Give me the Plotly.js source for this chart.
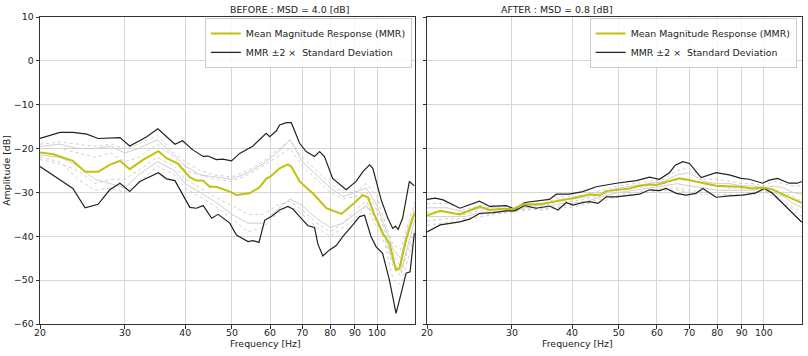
<!DOCTYPE html>
<html>
<head>
<meta charset="utf-8">
<script src="https://cdn.plot.ly/plotly-3.0.1.min.js"></script>
<style>html,body{margin:0;padding:0;background:#fff}#chart{width:808px;height:356px}</style>
</head>
<body>
<div id="chart"></div>
<script>
// ---------- BEFORE (left panel) ----------
const beforeMeanF = [20,21.3,23.4,24.8,26.4,27.9,29.3,30.7,32.7,35.2,36.6,38.6,40.9,42.2,43.5,45.0,46.4,49.5,51.1,54.4,57.1,58.9,60.4,62.8,65.3,66.4,69.1,74.2,78.5,84.3,89.1,93.4,95.7,98.8,102.7,106.1,109.5,111.3,114.9,119.5];
const beforeMean  = [-20.9,-21.3,-22.8,-25.3,-25.3,-23.7,-22.8,-24.7,-22.6,-20.6,-22.2,-23.4,-26.5,-27.3,-27.3,-28.7,-28.7,-29.8,-30.6,-30.2,-28.8,-26.9,-26.2,-24.5,-23.6,-24.1,-27.5,-30.6,-33.6,-34.9,-32.7,-30.6,-31.1,-35.1,-39.3,-41.6,-47.7,-47.3,-40.8,-34.8];

const beforeUpperF = [20,22.0,23.4,25.0,26.4,29.3,30.7,33.3,35.1,36.6,38.1,39.5,41.5,43.6,44.6,46.4,47.9,49.9,51.9,55.3,58.0,58.9,59.9,61.8,62.8,64.9,66.4,69.1,71.3,74.2,76.0,77.8,80.9,86.3,90.5,93.4,96.5,98.0,102.0,105.3,107.8,109.2,110.6,113.0,116.7,119.5];
const beforeUpper  = [-17.7,-16.3,-16.3,-16.7,-17.7,-17.5,-19.4,-17.3,-15.5,-17.3,-19.0,-18.2,-20.3,-21.8,-21.7,-22.5,-22.4,-22.8,-21.1,-19.4,-17.3,-16.5,-17.3,-16.0,-14.6,-14.1,-14.1,-18.8,-20.7,-21.8,-20.7,-21.8,-26.8,-29.4,-27.5,-25.3,-23.7,-24.5,-31.7,-35.9,-38.2,-37.7,-38.4,-35.9,-27.5,-28.5];

const beforeLowerF = [20,22.0,23.4,24.8,26.4,27.9,29.3,30.7,32.2,35.2,36.6,38.1,40.9,42.2,43.6,45.4,46.8,49.5,51.1,54.0,55.3,56.9,58.5,60.4,62.8,65.3,66.9,69.1,71.9,74.2,75.4,77.2,79.7,82.3,84.9,89.1,92.0,94.2,97.2,99.6,102.7,106.1,109.5,112.2,114.9,117.1,119.5];
const beforeLower  = [-24.1,-27.2,-29.1,-33.5,-32.7,-29.4,-27.9,-29.8,-27.5,-25.5,-26.9,-27.3,-33.4,-33.6,-33.0,-35.9,-35.0,-37.0,-39.7,-41.2,-41.0,-41.4,-36.3,-35.5,-34.0,-33.2,-33.8,-35.5,-37.6,-38.0,-41.8,-44.5,-43.1,-42.1,-40.1,-37.4,-35.5,-35.2,-40.1,-42.4,-43.9,-50.0,-57.6,-53.0,-48.4,-48.1,-39.3];

const beforeGrayF = [20,22,24,26,28,30,32,35,38,40,43,46,50,54,58,62,66,70,75,80,85,90,95,100,104,108,112,116,120];
const beforeGray1 = [-19,-18.5,-19,-19.5,-19,-20,-19,-17,-21,-23,-25,-26,-26.5,-25,-23,-20.5,-18,-22,-25,-28,-30,-30,-28,-31,-37,-42,-43,-37,-32];
const beforeGray2 = [-19.5,-19,-20,-20,-19.5,-21,-20,-18,-21.5,-24,-26,-26.5,-27,-25.5,-23.5,-21,-18,-23,-26,-29,-31,-30,-29,-33,-38,-43,-45,-38,-34];
const beforeGray3 = [-20,-20,-21,-22,-21,-23,-22,-19,-22,-25,-26,-27,-27.5,-26,-24,-22,-20,-24,-27,-30,-31.5,-31,-30,-34,-39,-44,-47,-39,-33];
const beforeGray4 = [-21.5,-22,-24,-27,-28,-29,-26,-23,-25,-28,-30,-32,-35,-37,-37,-34,-31.5,-33,-36,-38,-37,-35,-33,-36,-40,-46,-48,-42,-36];
const beforeGray5 = [-22,-23,-27,-29.5,-29,-30,-28,-24,-26,-29,-31,-33,-36,-39,-38,-35,-33,-35,-38,-40,-38,-36,-33,-38,-42,-50,-51,-45,-39];
const beforeGray6 = [-22.5,-23.5,-25,-28,-27,-27,-25,-22,-24,-27,-29,-31,-33,-35,-35,-33,-32,-34,-37,-39,-37,-34,-32,-37,-41,-47,-49,-43,-38];

// ---------- AFTER (right panel) ----------
const afterMeanF = [20,21.3,23.4,25.7,27.0,28.3,30.2,31.6,34.3,37.1,38.9,40.2,43.5,45.6,47.1,50.2,52.7,55.2,57.9,59.8,62.7,66.8,70.1,74.7,79.6,88.9,94.8,99.4,104.2,111.1,118.4,119.9];
const afterMean  = [-35.3,-34.2,-35.0,-33.2,-34.0,-33.8,-33.8,-32.7,-32.7,-32.0,-31.6,-31.3,-30.4,-30.7,-29.7,-29.4,-29.1,-28.5,-28.2,-28.3,-27.7,-26.8,-27.2,-27.8,-28.5,-28.7,-29.1,-28.9,-29.3,-30.8,-32.2,-32.4];

const afterUpperF = [20,20.8,21.6,23.4,25.7,27.0,29.2,30.4,31.9,33.7,35.9,37.1,39.5,42.1,44.9,49.4,54.4,57.9,60.7,63.7,65.5,67.9,70.1,72.3,74.1,79.6,84.8,89.7,93.3,99.4,102.6,106.7,112.8,117.4,119.9];
const afterUpper  = [-31.6,-31.3,-31.7,-33.6,-32.0,-33.2,-33.0,-33.8,-32.3,-31.9,-31.6,-30.4,-30.4,-29.8,-28.7,-27.9,-27.3,-26.5,-27.0,-25.5,-23.8,-23.0,-23.4,-25.2,-26.6,-25.5,-26.0,-26.8,-27.0,-27.9,-27.2,-26.8,-27.9,-27.9,-27.5];

const afterLowerF = [20,21.3,23.4,24.5,25.7,27.4,29.2,30.4,31.9,33.7,35.9,37.4,38.9,40.2,42.1,43.5,45.3,47.1,49.4,52.7,55.2,57.9,60.7,62.7,65.8,69.0,72.3,74.7,79.6,84.8,90.4,96.3,100.2,104.2,111.1,118.4,119.9];
const afterLower  = [-39.0,-37.4,-36.7,-36.1,-34.8,-34.6,-34.2,-34.2,-33.0,-33.6,-33.1,-34.0,-32.3,-32.9,-32.3,-32.1,-32.5,-31.0,-31.0,-30.6,-30.4,-29.4,-29.6,-29.1,-30.2,-30.6,-30.2,-29.1,-31.1,-30.8,-30.6,-30.1,-29.1,-30.2,-33.2,-36.3,-36.8];

const afterGrayF = [20,22,24,26,28,30,32,35,38,40,43,46,50,54,58,62,66,70,75,80,85,90,95,100,105,110,115,120];
const afterGray1 = [-32.5,-32.5,-34,-33,-33,-33.5,-32.8,-32.5,-31,-31,-30.5,-29.5,-28.5,-28,-27.5,-27,-25,-24.5,-27,-27,-27.5,-28,-28,-28.5,-27.5,-28,-28.5,-28.5];
const afterGray2 = [-33.5,-33.5,-34.5,-33.5,-33.5,-33.8,-33,-32.8,-31.5,-31.5,-31,-30,-29,-28.5,-28,-27.5,-26,-25.5,-27.5,-28,-28,-28.5,-28.5,-29,-28.5,-29,-30,-30.5];
const afterGray3 = [-34.5,-34.5,-35,-34,-34,-34,-33.2,-33,-32,-32,-31.5,-30.5,-29.5,-29,-28.5,-28,-27,-27,-28,-28.5,-29,-29,-29,-29,-29.5,-30,-31,-32];
const afterGray4 = [-35.5,-35.5,-35.5,-34.5,-34.5,-34.2,-33.5,-33.5,-32.5,-32.5,-32,-31,-30,-29.5,-29,-28.5,-28,-28.5,-29,-29.5,-29.5,-29.5,-29.5,-29,-30,-31,-32.5,-33.5];
const afterGray5 = [-36.5,-36,-36,-35,-34.8,-34.4,-33.8,-33.8,-33,-33,-32.3,-31.5,-30.5,-30,-29.5,-29,-29,-29.5,-30,-30,-30,-30,-30,-29.5,-30.5,-32,-33.5,-34.5];
const afterGray6 = [-37.5,-36.8,-36.3,-35.5,-35,-34.6,-34,-34,-33.3,-33.5,-32.5,-32,-31,-30.5,-30,-29.5,-29.5,-30,-30.5,-30.5,-30.5,-30.5,-30.5,-29.8,-31,-32.5,-34,-35.5];

const tickVals = [20,30,40,50,60,70,80,90,100];
const tickText = ['20','30','40','50','60','70','80','90','100'];
const titles = ['BEFORE : MSD = 4.0 [dB]', 'AFTER : MSD = 0.8 [dB]'];
const xTitle = 'Frequency [Hz]';
const yTitle = 'Amplitude [dB]';
const meanName = 'Mean Magnitude Response (MMR)';
const stdName = 'MMR \u00b12 \u00d7  Standard Deviation';

const FONT = 'DejaVu Sans, sans-serif';
const FS = 9.4;
const meanColor = '#c2c20e';
const stdColor = '#222222';
const grayColor = '#c9c9c9';

function panel(xa, ya, leg, grayF, grays, lowF, low, upF, up, mF, m) {
  const t = [];
  const dashes = ['dot','solid','dot','solid','dot','dot'];
  grays.forEach((g, i) => t.push({x: grayF, y: g, xaxis: xa, yaxis: ya, type: 'scatter', mode: 'lines',
    line: {color: grayColor, width: 0.9, dash: dashes[i]}, showlegend: false, hoverinfo: 'skip'}));
  t.push({x: lowF, y: low, xaxis: xa, yaxis: ya, type: 'scatter', mode: 'lines',
    line: {color: stdColor, width: 1.2}, showlegend: false});
  t.push({x: upF, y: up, xaxis: xa, yaxis: ya, type: 'scatter', mode: 'lines', name: stdName,
    line: {color: stdColor, width: 1.2}, legend: leg, legendrank: 2});
  t.push({x: mF, y: m, xaxis: xa, yaxis: ya, type: 'scatter', mode: 'lines', name: meanName,
    line: {color: meanColor, width: 2}, legend: leg, legendrank: 1});
  return t;
}

const data = [].concat(
  panel('x', 'y', 'legend', beforeGrayF, [beforeGray1,beforeGray2,beforeGray3,beforeGray4,beforeGray5,beforeGray6],
        beforeLowerF, beforeLower, beforeUpperF, beforeUpper, beforeMeanF, beforeMean),
  panel('x2', 'y2', 'legend2', afterGrayF, [afterGray1,afterGray2,afterGray3,afterGray4,afterGray5,afterGray6],
        afterLowerF, afterLower, afterUpperF, afterUpper, afterMeanF, afterMean)
);

const xBase = {
  type: 'log', range: [Math.log10(20), Math.log10(120)],
  tickvals: tickVals, ticktext: tickText,
  showgrid: true, gridcolor: '#d6d6d6', gridwidth: 1,
  showline: true, mirror: true, linecolor: '#333', linewidth: 1,
  ticks: 'outside', ticklen: 3.5, tickcolor: '#333',
  tickfont: {family: FONT, size: FS, color: '#222'},
  ticklabelstandoff: -4,
  zeroline: false
};
const yBase = {
  range: [-60, 10], tickvals: [10,0,-10,-20,-30,-40,-50,-60],
  showgrid: true, gridcolor: '#d6d6d6', gridwidth: 1,
  showline: true, mirror: true, linecolor: '#333', linewidth: 1,
  ticks: 'outside', ticklen: 3.5, tickcolor: '#333',
  tickfont: {family: FONT, size: FS, color: '#222'},
  zeroline: false
};
const legBase = {
  y: 0.997, yanchor: 'top', xanchor: 'right',
  bgcolor: 'rgba(255,255,255,0.85)', bordercolor: '#cccccc', borderwidth: 1,
  font: {family: FONT, size: FS, color: '#222'},
  itemwidth: 30, tracegroupgap: 0
};
const annFont = {family: FONT, size: FS, color: '#222'};

const layout = {
  width: 808, height: 356,
  margin: {l: 40, r: 6, t: 17, b: 32},
  paper_bgcolor: '#fff', plot_bgcolor: '#fff',
  font: {family: FONT, size: FS, color: '#222'},
  xaxis: Object.assign({}, xBase, {domain: [0, 0.4924], anchor: 'y'}),
  yaxis: Object.assign({}, yBase, {anchor: 'x', title: {text: yTitle, font: annFont}}),
  xaxis2: Object.assign({}, xBase, {domain: [0.5079, 1], anchor: 'y2'}),
  yaxis2: Object.assign({}, yBase, {anchor: 'x2', showticklabels: false}),
  legend: Object.assign({}, legBase, {x: 0.488}),
  legend2: Object.assign({}, legBase, {x: 0.993}),
  annotations: [
    {text: titles[0], xref: 'paper', yref: 'paper', x: 0.2462, y: 1, yanchor: 'bottom', showarrow: false, font: annFont},
    {text: titles[1], xref: 'paper', yref: 'paper', x: 0.754, y: 1, yanchor: 'bottom', showarrow: false, font: annFont},
    {text: xTitle, xref: 'paper', yref: 'paper', x: 0.2462, y: -0.065, yanchor: 'middle', showarrow: false, font: annFont},
    {text: xTitle, xref: 'paper', yref: 'paper', x: 0.754, y: -0.065, yanchor: 'middle', showarrow: false, font: annFont}
  ],
  showlegend: true
};

Plotly.newPlot('chart', data, layout, {staticPlot: true, displayModeBar: false});
</script>
</body>
</html>
